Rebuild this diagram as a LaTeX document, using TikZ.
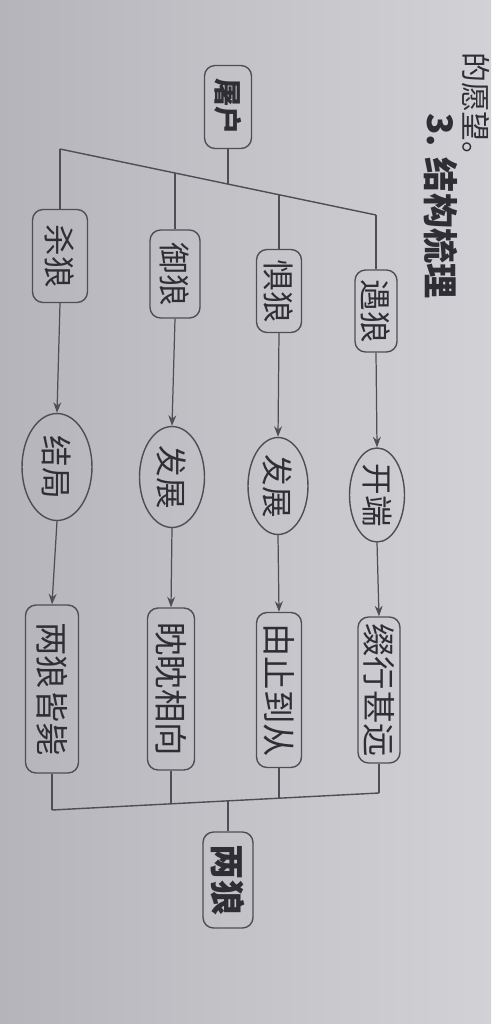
\documentclass[tikz,border=0pt]{standalone}
\usepackage{fontspec}
\usepackage{tikz}
\usetikzlibrary{positioning, arrows.meta, shapes.geometric}
\newfontfamily\cjk{Noto Sans CJK SC}
\definecolor{paperL}{RGB}{180,180,186}
\definecolor{paperR}{RGB}{210,210,214}
\definecolor{inkc}{RGB}{78,78,84}
\definecolor{textc}{RGB}{46,46,52}

\begin{document}
\begin{tikzpicture}[x=0.02cm,y=-0.02cm,
  box/.style={draw=inkc,line width=0.8pt,rounded corners=6pt,rotate=-90,inner sep=0pt,
    text=textc,font=\cjk\fontsize{18}{18}\selectfont},
  oval/.style={draw=inkc,line width=0.8pt,ellipse,rotate=-90,inner sep=0pt,
    text=textc,font=\cjk\fontsize{18}{18}\selectfont},
  bar/.style={draw=inkc,line width=0.8pt},
  arr/.style={draw=inkc,line width=0.7pt,-{Stealth[length=6pt,width=4.5pt]}}]
\shade[left color=paperL,right color=paperR] (0,0) rectangle (491,1024);
\useasboundingbox (0,0) rectangle (491,1024);

% page text
\node[rotate=-90,text=textc,font=\cjk\fontsize{17}{17}\selectfont] (prev) at (476,112) {的愿望。};
\node[rotate=-90,text=textc,font=\cjk\bfseries\fontsize{20}{20}\selectfont] (title) at (441,206) {3. 结构梳理};

% top and bottom
\node[box,font=\cjk\bfseries\fontsize{16}{16}\selectfont,minimum width=1.66cm,minimum height=0.94cm] (tuhu) at (228,107) {屠户};
\node[box,font=\cjk\bfseries\fontsize{20}{20}\selectfont,minimum width=1.92cm,minimum height=1.0cm] (lianglang) at (228,880) {两狼};

% first row
\node[box,minimum width=1.86cm,minimum height=1.1cm] (shalang) at (60,256) {杀狼};
\node[box,minimum width=1.76cm,minimum height=1.0cm] (yulang) at (175,274) {御狼};
\node[box,minimum width=1.66cm,minimum height=0.9cm] (julang) at (279,291) {惧狼};
\node[box,minimum width=1.64cm,minimum height=0.84cm] (yulang2) at (376,311) {遇狼};

% second row
\node[oval,minimum width=2.14cm,minimum height=1.4cm] (jieju) at (57,467) {结局};
\node[oval,minimum width=2.02cm,minimum height=1.3cm] (fazhan1) at (172,477) {发展};
\node[oval,minimum width=1.94cm,minimum height=1.2cm] (fazhan2) at (278,486) {发展};
\node[oval,minimum width=1.88cm,minimum height=1.1cm] (kaiduan) at (377,495) {开端};

% third row
\node[box,font=\cjk\fontsize{19}{19}\selectfont,minimum width=3.36cm,minimum height=1.06cm] (jiebi) at (52,689) {两狼皆毙};
\node[box,font=\cjk\fontsize{19}{19}\selectfont,minimum width=3.24cm,minimum height=0.94cm] (dandan) at (171,689) {眈眈相向};
\node[box,font=\cjk\fontsize{19}{19}\selectfont,minimum width=3.1cm,minimum height=0.9cm] (youzhi) at (279,690) {由止到从};
\node[box,font=\cjk\fontsize{19}{19}\selectfont,minimum width=2.92cm,minimum height=0.84cm] (zhuixing) at (379,690) {缀行甚远};

% top bar
\coordinate (t0) at (228,184);
\coordinate (t1) at (60,149);
\coordinate (t2) at (175,173);
\coordinate (t3) at (279,195);
\coordinate (t4) at (376,215);
\draw[bar] (tuhu.east) -- (t0);
\draw[bar] (t1) -- (t4);
\draw[bar] (t1) -- (shalang.west);
\draw[bar] (t2) -- (yulang.west);
\draw[bar] (t3) -- (julang.west);
\draw[bar] (t4) -- (yulang2.west);

% arrows
\draw[arr] (shalang.east) -- (jieju.west);
\draw[arr] (yulang.east) -- (fazhan1.west);
\draw[arr] (julang.east) -- (fazhan2.west);
\draw[arr] (yulang2.east) -- (kaiduan.west);
\draw[arr] (jieju.east) -- (jiebi.west);
\draw[arr] (fazhan1.east) -- (dandan.west);
\draw[arr] (fazhan2.east) -- (youzhi.west);
\draw[arr] (kaiduan.east) -- (zhuixing.west);

% bottom bar
\coordinate (b0) at (228,801);
\coordinate (b1) at (52,810);
\coordinate (b2) at (171,804);
\coordinate (b3) at (279,798);
\coordinate (b4) at (379,793);
\draw[bar] (b1) -- (b4);
\draw[bar] (jiebi.east) -- (b1);
\draw[bar] (dandan.east) -- (b2);
\draw[bar] (youzhi.east) -- (b3);
\draw[bar] (zhuixing.east) -- (b4);
\draw[bar] (b0) -- (lianglang.west);
\end{tikzpicture}
\end{document}
